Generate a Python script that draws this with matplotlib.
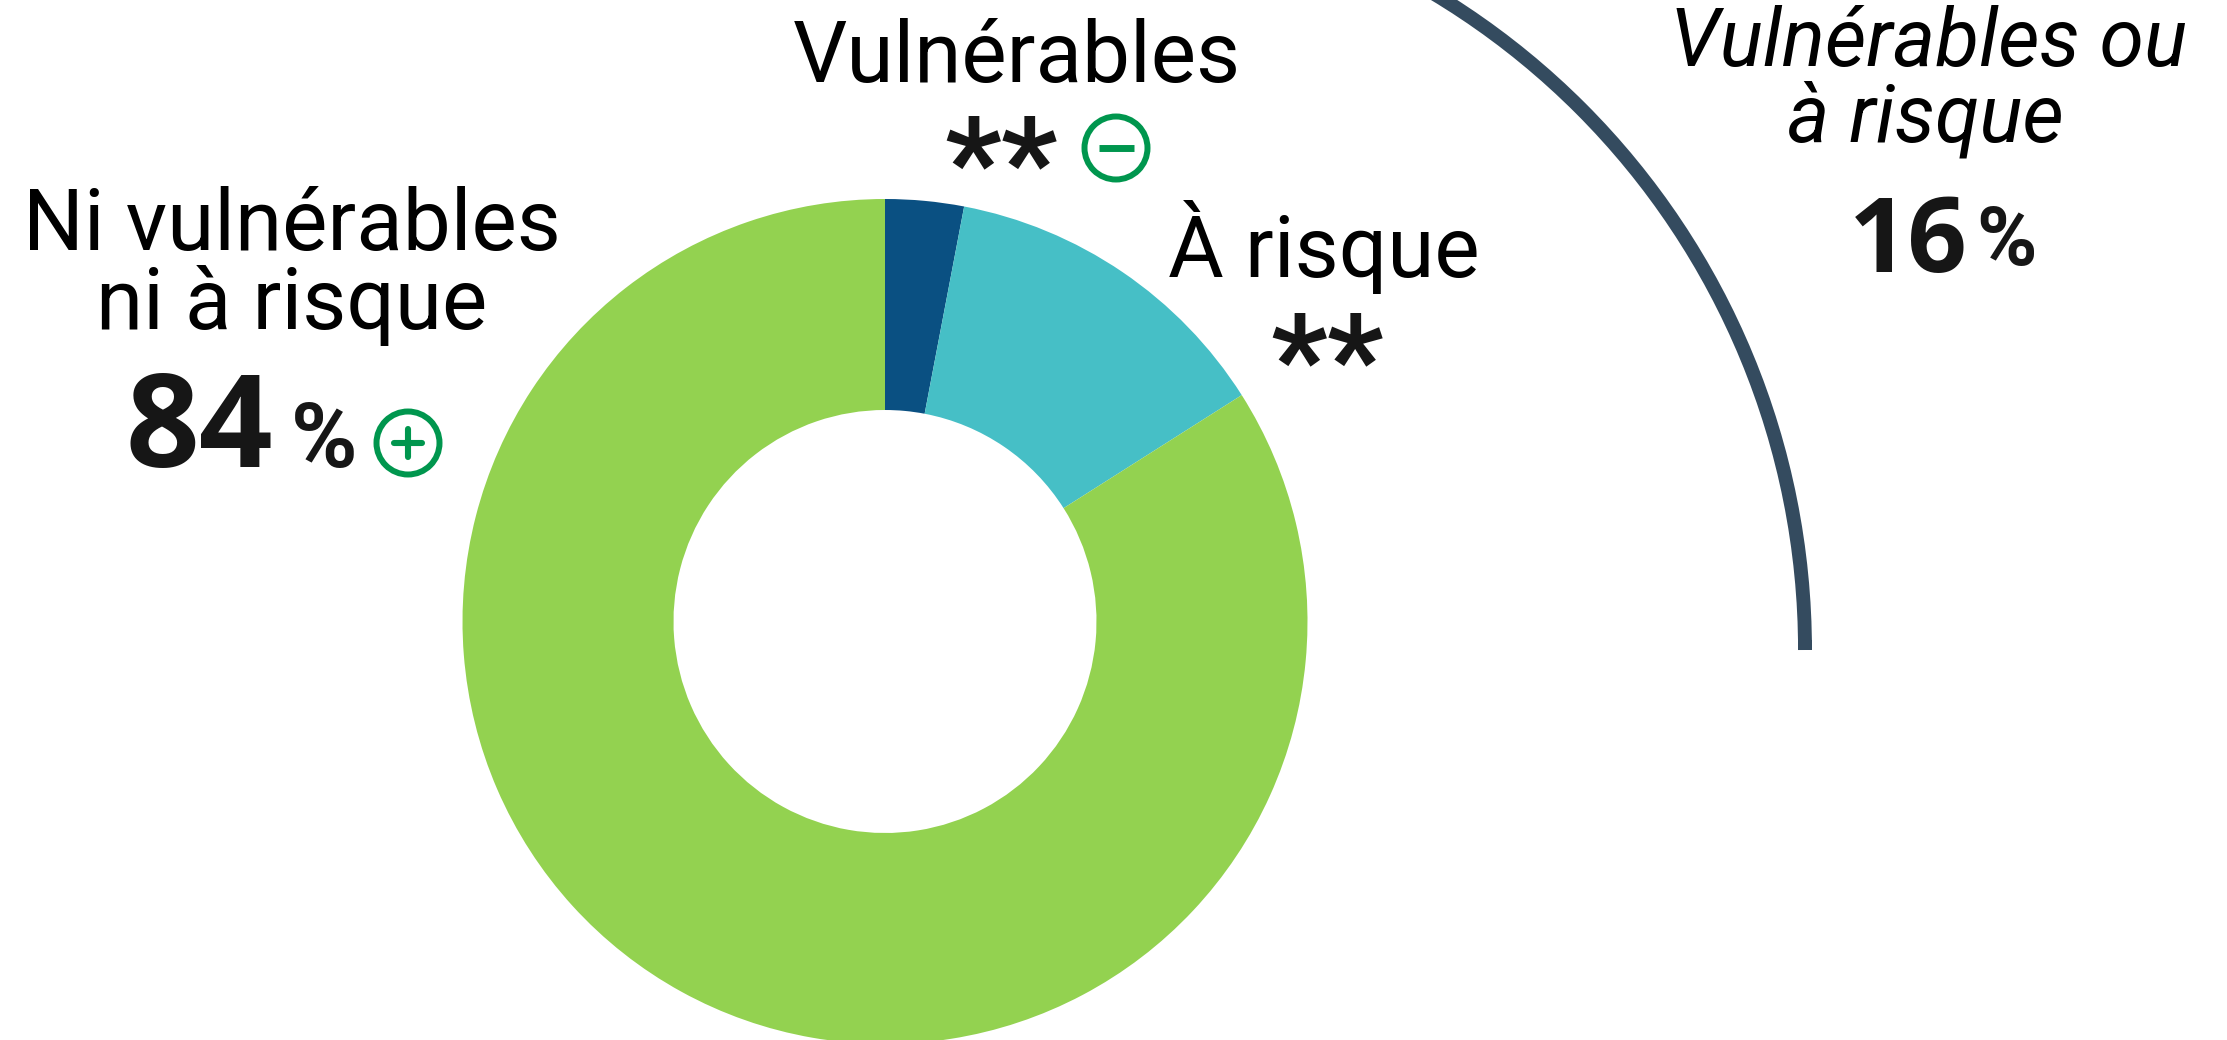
import matplotlib
matplotlib.use('Agg')
import matplotlib.pyplot as plt
from matplotlib.patches import Arc, Circle

# Valeurs
categories = ['Vulnérables', 'À risque', 'Ni vulnérables\nni à risque']
valeurs = [3, 13, 84]
couleurs = ['#0A5082', '#46BFC6', '#93D250']
total_label = 'Vulnérables ou\nà risque'
total = 16

H = 1040  # hauteur en pixels, pour passer du haut vers le bas
VERT = '#00964E'
NOIR = '#161616'
ARC = '#344B5F'


def Y(y):
    return H - y


def ecrit(x, y, s, taille, fam='Roboto', poids='normal', style='normal', ha='center', c='black'):
    ax.text(x, Y(y), s, fontsize=taille, family=fam, weight=poids, style=style,
            ha=ha, va='baseline', color=c)


def icone(x, y, signe):
    ax.add_patch(Circle((x, Y(y)), 31.5, fc='white', ec=VERT, lw=4.3))
    if signe == '+':
        ax.plot([x - 14, x + 14], [Y(y), Y(y)], color=VERT, lw=4.4, solid_capstyle='round')
        ax.plot([x, x], [Y(y) - 14, Y(y) + 14], color=VERT, lw=4.4, solid_capstyle='round')
    else:
        ax.plot([x - 17.5, x + 17.5], [Y(y), Y(y)], color=VERT, lw=5, solid_capstyle='butt')


fig = plt.figure(figsize=(22.27, 10.40), dpi=100)
ax = fig.add_axes([0, 0, 1, 1])

# Anneau principal
ax.pie(valeurs, colors=couleurs, startangle=90, counterclock=False,
       center=(885, Y(621.5)), radius=422.5, wedgeprops=dict(width=211, linewidth=0),
       frame=True)

# Arc du total (vulnérables ou à risque)
ax.add_patch(Arc((1039, Y(650)), 1532, 1532, theta1=0, theta2=90, color=ARC, lw=10))
ax.plot([1805, 1805], [Y(650), Y(640)], color=ARC, lw=10, solid_capstyle='butt')

ax.set_xlim(0, 2227)
ax.set_ylim(0, H)
ax.set_aspect('equal')
ax.axis('off')

# Libellés
ecrit(1017, 82, categories[0], 61.5)
ecrit(1324, 277, categories[1], 61.5)
l1, l2 = categories[2].split('\n')
ecrit(292, 250, l1, 61.5)
ecrit(292, 329, l2, 61.5)
t1, t2 = total_label.split('\n')
ecrit(1928, 66, t1, 58, style='italic')
ecrit(1925, 142, t2, 58, style='italic')

# Valeurs
ecrit(199, 467, str(valeurs[2]), 93, fam='Open Sans', poids='bold', c=NOIR)
ecrit(324, 467, '%', 65, poids='bold', c=NOIR)
ecrit(1908, 272, str(total), 75, fam='Open Sans', poids='bold', c=NOIR)
ecrit(2006, 265, '%', 59, poids='bold', c=NOIR)

# Astérisques et icônes
ecrit(1001, 204, '**', 90, poids='bold', c=NOIR)
ecrit(1327, 401, '**', 90, poids='bold', c=NOIR)
icone(1116, 148, '-')
icone(408, 443, '+')

fig.savefig('out.png', dpi=100)
